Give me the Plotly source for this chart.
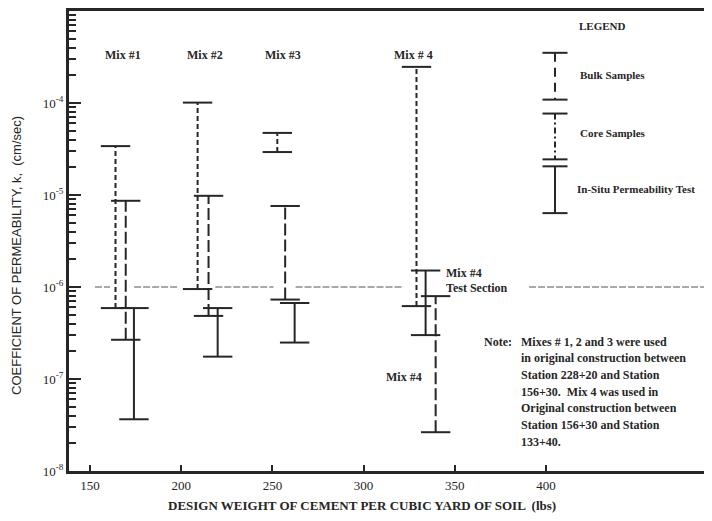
import plotly.graph_objects as go

# ---------------- data ----------------
MIXES = ["Mix #1", "Mix #2", "Mix #3", "Mix # 4"]

BULK_X = [164, 209, 252.7, 329]
BULK_HI = [3.4e-5, 1.01e-4, 4.73e-5, 2.47e-4]
BULK_LO = [5.9e-7, 9.5e-7, 2.93e-5, 6.2e-7]

CORE_X = [169.6, 215, 257, 339.5]
CORE_HI = [8.65e-6, 9.8e-6, 7.6e-6, 7.96e-7]
CORE_LO = [2.67e-7, 4.85e-7, 7.3e-7, 2.64e-8]

INSITU_X = [174.1, 220, 262.2, 334]          # last = Mix #4 test section
INSITU_HI = [5.9e-7, 5.9e-7, 6.7e-7, 1.51e-6]
INSITU_LO = [3.65e-8, 1.75e-7, 2.49e-7, 3.0e-7]

REF_K = 1e-6
REF_SEGMENTS = [(152.7, 161), (174.2, 198.9), (218.7, 250.6), (262.7, 322), (390.7, 491)]

X_TICKS = [150, 200, 250, 300, 350, 400]
Y_TICKS = [1e-8, 1e-7, 1e-6, 1e-5, 1e-4]
Y_TICK_TEXT = ["10<sup>-8</sup>", "10<sup>-7</sup>", "10<sup>-6</sup>", "10<sup>-5</sup>", "10<sup>-4</sup>"]

NOTE_LINES = [
    "Mixes # 1, 2 and 3 were used",
    "in original construction between",
    "Station 228+20 and Station",
    "156+30.  Mix 4 was used in",
    "Original construction between",
    "Station 156+30 and Station",
    "133+40.",
]

# ---------------- layout geometry ----------------
# page has an 8px body margin: figure coords = page coords - 8
OFF = 8
W, H = 704, 513
ML, MR, MT, MB = 61, 0, 1, 50
PW, PH = W - ML - MR, H - MT - MB
INK = "#262626"
SERIF = "Liberation Serif"


def px(x):
    return (x - OFF - ML) / PW


def py(y):
    return (H - MB - (y - OFF)) / PH


def bars(xs, los, his):
    X, Y = [], []
    for x, lo, hi in zip(xs, los, his):
        X += [x, x, None]
        Y += [lo, hi, None]
    return X, Y


fig = go.Figure()


def add_bars(xs, los, his, dash, name):
    X, Y = bars(xs, los, his)
    fig.add_trace(go.Scatter(
        x=X, y=Y, mode="lines+markers", name=name, showlegend=False,
        line=dict(color=INK, width=2, dash=dash),
        marker=dict(symbol="line-ew", size=21, color=INK,
                    line=dict(color=INK, width=2)),
        hoverinfo="skip"))


# reference line at 1e-6
rx, ry = [], []
for a, b in REF_SEGMENTS:
    rx += [a, b, None]
    ry += [REF_K, REF_K, None]
fig.add_trace(go.Scatter(x=rx, y=ry, mode="lines", showlegend=False,
                         line=dict(color="#555", width=1.2, dash="7px,2px"),
                         hoverinfo="skip"))

add_bars(BULK_X, BULK_LO, BULK_HI, "5px,3px", "Bulk Samples")
add_bars(CORE_X, CORE_LO, CORE_HI, "12px,4px", "Core Samples")
add_bars(INSITU_X, INSITU_LO, INSITU_HI, "solid", "In-Situ Permeability Test")

minor_vals = [m * 10 ** e for e in range(-8, -3) for m in range(2, 10)]

fig.update_layout(
    width=W, height=H,
    margin=dict(l=ML, r=MR, t=MT, b=MB),
    paper_bgcolor="white", plot_bgcolor="white",
    font=dict(family=SERIF, color=INK, size=12),
    xaxis=dict(range=[138.5, 491], tickvals=X_TICKS, ticks="inside", ticklen=6,
               tickwidth=1.5, tickcolor=INK, showgrid=False, zeroline=False,
               showline=True, linewidth=3, linecolor=INK, mirror=True,
               tickfont=dict(family=SERIF, size=13, color=INK)),
    yaxis=dict(type="log", range=[-8, -3], tickvals=Y_TICKS, ticktext=Y_TICK_TEXT,
               ticks="inside", ticklen=12, tickwidth=1.5, tickcolor=INK,
               showgrid=False, zeroline=False, showline=True, linewidth=3,
               linecolor=INK, mirror=False,
               tickfont=dict(family=SERIF, size=13, color=INK),
               minor=dict(tickvals=minor_vals, ticks="inside", ticklen=7,
                          tickwidth=1.5, tickcolor=INK, showgrid=False)),
)

ann = []


def text(t, x, y, size=12, xanchor="center", font=SERIF, bold=True, **kw):
    ann.append(dict(text=(f"<b>{t}</b>" if bold else t), x=px(x), y=py(y), xref="paper",
                    yref="paper", showarrow=False, xanchor=xanchor, yanchor="middle",
                    font=dict(family=font, size=size, color=INK), **kw))


# mix labels
for lab, x in zip(MIXES, [123, 205, 283, 413]):
    text(lab, x, 53)

text("Mix #4", 444, 272, xanchor="left")
text("Test Section", 444, 287, xanchor="left")
text("Mix #4", 404, 377)

# legend
text("LEGEND", 602, 24, size=11)
text("Bulk Samples", 578, 73, size=11, xanchor="left")
text("Core Samples", 578, 132, size=11, xanchor="left")
text("In-Situ Permeability Test", 575, 188, size=11, xanchor="left")

# note
text("Note:", 514, 341, xanchor="right")
for i, line in enumerate(NOTE_LINES):
    text(line, 519, 341 + i * 16.8, xanchor="left")

# axis titles
text("COEFFICIENT OF PERMEABILITY, k,  (cm/sec)", 17, 255, size=13,
     font="Liberation Sans", bold=False, textangle=-90)
text("DESIGN WEIGHT OF CEMENT PER CUBIC YARD OF SOIL  (lbs)", 362, 506, size=13)

fig.update_layout(annotations=ann)

# legend glyphs (paper coordinates)
shapes = []


def glyph(top, bot, dash):
    cx = 555
    shapes.append(dict(type="line", xref="paper", yref="paper", x0=px(cx), x1=px(cx),
                       y0=py(top), y1=py(bot), line=dict(color=INK, width=2, dash=dash)))
    for yy in (top, bot):
        shapes.append(dict(type="line", xref="paper", yref="paper", x0=px(cx - 12.5),
                           x1=px(cx + 12.5), y0=py(yy), y1=py(yy),
                           line=dict(color=INK, width=2)))


glyph(51, 98, "9px,6px")
glyph(112, 158, "6px,3px,2px,3px")
glyph(165, 212, "solid")
fig.update_layout(shapes=shapes)

fig.write_html("out.html")
